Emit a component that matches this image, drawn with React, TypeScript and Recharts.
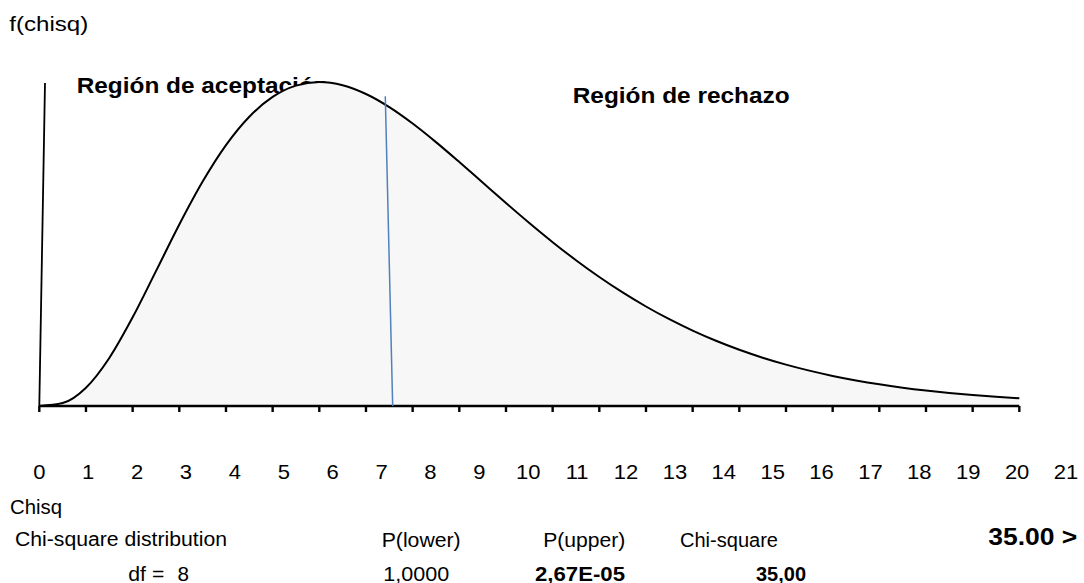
import React from "react";
import { ComposedChart, Area, XAxis, YAxis, ReferenceLine } from "recharts";

// chi-square values (x) and f(chisq)
const chisqValues = [
  0, 0.5, 1, 1.5, 2, 2.5, 3, 3.5, 4, 4.5, 5, 5.5, 6, 6.5, 7, 7.5, 8, 8.5, 9, 9.5, 10,
  10.5, 11, 11.5, 12, 12.5, 13, 13.5, 14, 14.5, 15, 15.5, 16, 16.5, 17, 17.5, 18, 18.5,
  19, 19.5, 20, 20.5, 21,
];
const densityValues = [
  0, 0.00101, 0.00632, 0.01661, 0.03066, 0.04663, 0.06276, 0.07761, 0.09023, 0.10005,
  0.10688, 0.11079, 0.11202, 0.11092, 0.10789, 0.10335, 0.09768, 0.09125, 0.08436,
  0.07727, 0.07019, 0.06328, 0.05666, 0.05042, 0.04462, 0.03928, 0.03441, 0.03001,
  0.02607, 0.02255, 0.01944, 0.01671, 0.01431, 0.01223, 0.01041, 0.00885, 0.0075,
  0.00634, 0.00535, 0.0045, 0.00378, 0.00317, 0.00266,
];
const axisTicks = [0, 1, 2, 3, 4, 5, 6, 7, 8, 9, 10, 11, 12, 13, 14, 15, 16, 17, 18, 19, 20, 21];
const labelTicks = [0, 1, 2, 3, 4, 5, 6, 7, 8, 9, 10, 11, 12, 13, 14, 15, 16, 17, 18, 19, 20, 21];
const leftLine = [
  { x: 0.122, y: 0.1117 },
  { x: 0, y: 0 },
];
const criticalLine = [
  { x: 7.414, y: 0.1071 },
  { x: 7.572, y: 0 },
];
const baseLine = [
  { x: 0, y: 0 },
  { x: 21, y: 0 },
];

const data = chisqValues.map((x, i) => ({ x, f: densityValues[i] }));

const FONT = "'Liberation Sans', Arial, sans-serif";

function Txt(props: { x: number; y: number; w: number; size: number; bold?: boolean; children: React.ReactNode }) {
  return (
    <text
      x={props.x}
      y={props.y}
      fontSize={props.size}
      fontFamily={FONT}
      fontWeight={props.bold ? "bold" : "normal"}
      fill="#000"
      textLength={props.w}
      lengthAdjust="spacingAndGlyphs"
    >
      {props.children}
    </text>
  );
}

function LabelTick(props: any) {
  const { x, y, payload } = props;
  return (
    <text
      transform={`translate(${x},${y}) scale(1.1,1)`}
      textAnchor="middle"
      dy="0.71em"
      fontSize={20}
      fontFamily={FONT}
      fill="#000"
    >
      {payload.value}
    </text>
  );
}

function EmptyTick() {
  return <g />;
}

export default function App() {
  return (
    <div style={{ position: "absolute", left: 0, top: 0, width: 1084, height: 583, background: "#fff" }}>
      <svg width={1084} height={583} style={{ position: "absolute", left: 0, top: 0 }}>
        <Txt x={9.3} y={31} w={79} size={19.5}>f(chisq)</Txt>
        <Txt x={76.7} y={93.3} w={252} size={22} bold>Región de aceptación</Txt>
        <Txt x={572.7} y={103.3} w={217} size={22} bold>Región de rechazo</Txt>
        <Txt x={10} y={514} w={52} size={19.5}>Chisq</Txt>
        <Txt x={15} y={545.5} w={212} size={19.5}>Chi-square distribution</Txt>
        <Txt x={381.7} y={546.5} w={79} size={19.5}>P(lower)</Txt>
        <Txt x={543.3} y={546.5} w={82} size={19.5}>P(upper)</Txt>
        <Txt x={680} y={546.5} w={98} size={19.5}>Chi-square</Txt>
        <Txt x={988.3} y={545} w={89} size={24} bold>35.00 &gt;</Txt>
        <Txt x={128.3} y={580.5} w={36} size={19.5}>df =</Txt>
        <Txt x={177.5} y={580.5} w={11.5} size={19.5}>8</Txt>
        <Txt x={383.3} y={580.5} w={66} size={19.5}>1,0000</Txt>
        <Txt x={535} y={580.5} w={90} size={19.5} bold>2,67E-05</Txt>
        <Txt x={756} y={580.5} w={50} size={19.5} bold>35,00</Txt>
      </svg>
      <div style={{ position: "absolute", left: 0, top: 0 }}>
        <ComposedChart
          width={1084}
          height={583}
          data={data}
          margin={{ top: 59, right: 18, left: 39.3, bottom: 88 }}
        >
          <XAxis
            xAxisId="a_main"
            dataKey="x"
            type="number"
            domain={[0, 22]}
            ticks={axisTicks}
            interval={0}
            height={59}
            axisLine={false}
            tick={<EmptyTick />}
            tickSize={6}
            tickLine={{ stroke: "#000", strokeWidth: 2.4 }}
            allowDataOverflow
          />
          <XAxis
            xAxisId="b_labels"
            dataKey="x"
            type="number"
            domain={[0, 21]}
            ticks={labelTicks}
            interval={0}
            height={30}
            axisLine={false}
            tickLine={false}
            tickSize={0}
            tickMargin={0}
            tick={<LabelTick />}
            allowDataOverflow
          />
          <YAxis hide type="number" domain={[0, 0.12]} allowDataOverflow />
          <Area
            xAxisId="a_main"
            dataKey="f"
            type="monotone"
            stroke="#000"
            strokeWidth={2}
            fill="#f7f7f7"
            fillOpacity={1}
            isAnimationActive={false}
            dot={false}
            activeDot={false}
          />
          <ReferenceLine xAxisId="a_main" segment={baseLine} stroke="#000" strokeWidth={2.4} />
          <ReferenceLine xAxisId="a_main" segment={leftLine} stroke="#000" strokeWidth={1.8} />
          <ReferenceLine xAxisId="a_main" segment={criticalLine} stroke="#4f81bd" strokeWidth={1.5} />
        </ComposedChart>
      </div>
    </div>
  );
}
